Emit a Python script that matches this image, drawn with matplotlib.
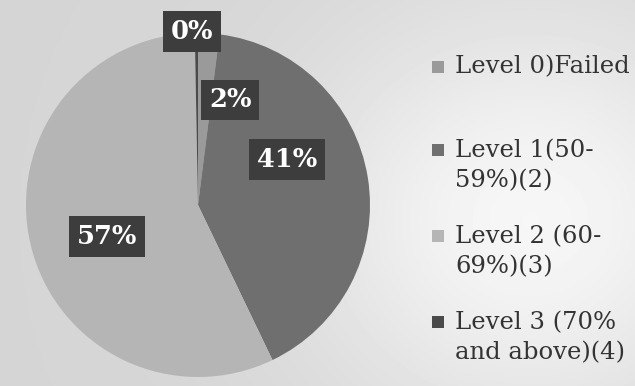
import numpy as np
import matplotlib
matplotlib.use("Agg")
import matplotlib.pyplot as plt
from matplotlib.patches import Rectangle

# ---- data ----
categories = ["Level 0)Failed", "Level 1(50-\n59%)(2)", "Level 2 (60-\n69%)(3)",
              "Level 3 (70%\nand above)(4)"]
values = [2.0, 41.0, 57.0, 0.3]
colors = ["#9a9a9a", "#6f6f6f", "#b5b5b5", "#4a4a4a"]

W, H = 635, 386
fig = plt.figure(figsize=(W / 100, H / 100), dpi=100)

# background vignette
bg = fig.add_axes([0, 0, 1, 1])
yy, xx = np.mgrid[0:H, 0:W]
val = 0.835 + 0.13 * np.exp(-(((xx - 530) / 230.0) ** 2 + ((yy - 220) / 210.0) ** 2))
bg.imshow(val, cmap="gray", vmin=0, vmax=1, aspect="auto", extent=[0, W, H, 0])
bg.set_axis_off()

# pie axes
cx, cy, R = 198, 205, 172
ax = fig.add_axes([(cx - R) / W, (H - cy - R) / H, 2 * R / W, 2 * R / H])
wedges, _ = ax.pie(values, colors=colors, startangle=90, counterclock=False,
                   radius=1.0, wedgeprops=dict(linewidth=0))
ax.set_xlim(-1, 1)
ax.set_ylim(-1, 1)
ax.set_axis_off()

total = sum(values)
# label radius / angular nudge (style) per wedge
label_r = [0.64, 0.58, 0.56, 1.01]
label_shift = [13.4, -17.8, -5.6, -1.5]  # degrees, clockwise positive
for w, v, r, sh in zip(wedges, values, label_r, label_shift):
    mid = 0.5 * (w.theta1 + w.theta2) - sh
    x = r * np.cos(np.radians(mid))
    y = r * np.sin(np.radians(mid))
    ax.text(x, y, f"{round(100 * v / total):.0f}%", ha="center", va="center",
            fontsize=18.5, fontweight="bold", family="DejaVu Serif", color="white",
            bbox=dict(boxstyle="square,pad=0.3", fc="#3d3d3d", ec="none"))

# legend (manual)
leg_y = [67, 166, 252, 338]
for lab, col, ly in zip(categories, colors, leg_y):
    nlines = lab.count("\n") + 1
    first_y = ly - (nlines - 1) * 16.5
    fig.patches.append(Rectangle((432 / W, (H - first_y - 6) / H), 12 / W, 12 / H,
                                 transform=fig.transFigure, fc=col, ec="none"))
    fig.text(455 / W, (H - ly) / H, lab, ha="left", va="center", fontsize=17.5,
             family="DejaVu Serif", color="#333333", linespacing=1.4)

fig.savefig("out.png", dpi=100)
